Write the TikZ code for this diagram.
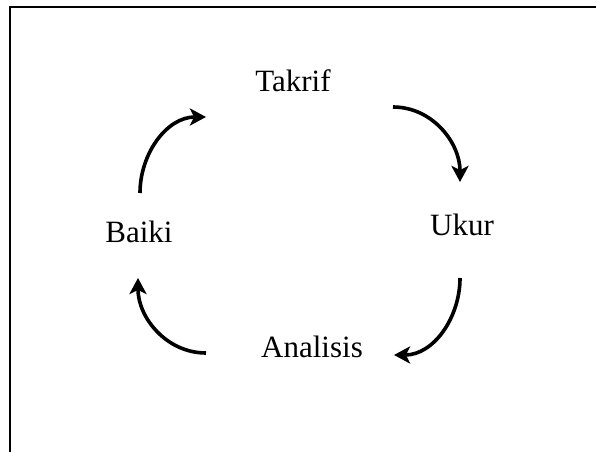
\documentclass[tikz,border=0pt]{standalone}
\usepackage{fontspec}
\setmainfont{Liberation Serif}
\usetikzlibrary{arrows.meta}
\begin{document}
\begin{tikzpicture}[x=1pt,y=1pt,
  label/.style={anchor=base,font=\fontsize{31}{37}\selectfont,inner sep=0pt},
  cycle/.style={line width=3.6pt,-{Stealth[length=16pt,width=17pt,inset=4pt]}},
  frame/.style={line width=2.6pt}]
\useasboundingbox (0,0) rectangle (596,452);
% open frame: left and top edges only
\draw[frame] (10,0) -- (10,445) -- (596,445);
% stage labels
\node[label] (takrif) at (293,360) {Takrif};
\node[label] (ukur) at (462,216) {Ukur};
\node[label] (analisis) at (312,94) {Analisis};
\node[label] (baiki) at (139,209) {Baiki};
% arrow end points around the cycle
\coordinate (a1) at (393,345);
\coordinate (b1) at (460,270);
\coordinate (a2) at (460,174);
\coordinate (b2) at (394,97);
\coordinate (a3) at (206,99);
\coordinate (b3) at (138,174);
\coordinate (a4) at (140,259);
\coordinate (b4) at (206,335);
\draw[cycle] (a1) to[out=0,in=90] (b1);
\draw[cycle] (a2) to[out=-90,in=0] (b2);
\draw[cycle] (a3) to[out=180,in=-90] (b3);
\draw[cycle] (a4) to[out=90,in=180] (b4);
\end{tikzpicture}
\end{document}
